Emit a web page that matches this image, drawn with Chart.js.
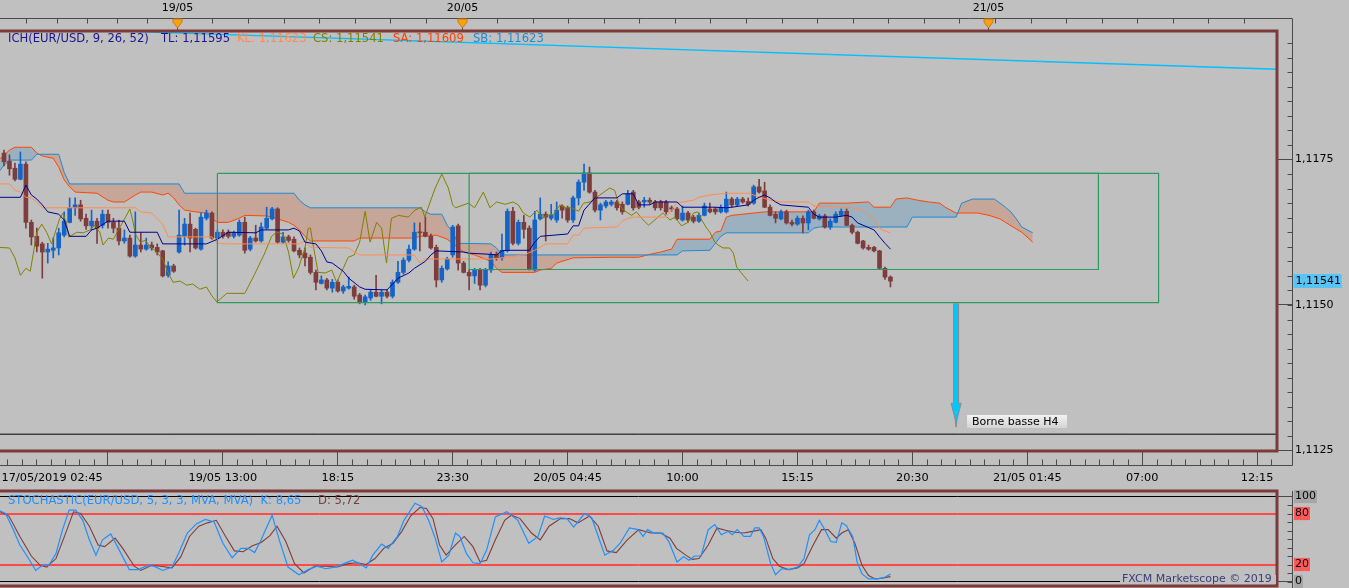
<!DOCTYPE html>
<html><head><meta charset="utf-8">
<script src="https://cdn.jsdelivr.net/npm/chart.js@4.4.1/dist/chart.umd.min.js"></script>
<style>
html,body{margin:0;padding:0;background:#c0c0c0;overflow:hidden;}
#wrap{position:relative;width:1349px;height:588px;}
canvas{position:absolute;left:0;top:0;}
</style></head><body>
<div id="wrap"><canvas id="main" width="1349" height="588"></canvas><canvas id="stoch" width="1349" height="588"></canvas></div>
<script>
// ---------- DATA (EUR/USD M15) ----------
const candleOpen = [1.11761,1.11747,1.11735,1.11716,1.11742,1.11642,1.11618,1.11605,1.11591,1.11594,1.11598,1.11620,1.11642,1.11667,1.11672,1.11649,1.11636,1.11644,1.11637,1.11656,1.11642,1.11632,1.11610,1.11615,1.11584,1.11603,1.11596,1.11603,1.11599,1.11593,1.11551,1.11567,1.11591,1.11618,1.11639,1.11630,1.11596,1.11649,1.11658,1.11615,1.11625,1.11625,1.11618,1.11620,1.11642,1.11596,1.11615,1.11610,1.11632,1.11648,1.11665,1.11608,1.11617,1.11613,1.11594,1.11589,1.11582,1.11556,1.11537,1.11543,1.11529,1.11539,1.11524,1.11529,1.11531,1.11517,1.11505,1.11512,1.11522,1.11515,1.11522,1.11515,1.11539,1.11556,1.11577,1.11596,1.11625,1.11625,1.11618,1.11599,1.11543,1.11562,1.11586,1.11636,1.11572,1.11556,1.11550,1.11560,1.11534,1.11560,1.11587,1.11581,1.11594,1.11661,1.11606,1.11642,1.11632,1.11560,1.11648,1.11656,1.11649,1.11646,1.11670,1.11667,1.11646,1.11684,1.11711,1.11727,1.11694,1.11663,1.11670,1.11673,1.11677,1.11673,1.11673,1.11694,1.11677,1.11677,1.11680,1.11677,1.11677,1.11677,1.11667,1.11665,1.11646,1.11658,1.11651,1.11644,1.11654,1.11665,1.11665,1.11660,1.11660,1.11682,1.11672,1.11682,1.11678,1.11675,1.11703,1.11696,1.11668,1.11656,1.11648,1.11660,1.11642,1.11639,1.11649,1.11641,1.11660,1.11648,1.11653,1.11634,1.11642,1.11654,1.11661,1.11637,1.11625,1.11610,1.11599,1.11599,1.11593,1.11563,1.11548];
const candleHigh = [1.11766,1.11758,1.11744,1.11763,1.11746,1.11646,1.11632,1.11608,1.11606,1.11615,1.11632,1.11660,1.11684,1.11684,1.11680,1.11656,1.11663,1.11649,1.11663,1.11663,1.11649,1.11646,1.11629,1.11620,1.11660,1.11624,1.11615,1.11608,1.11605,1.11594,1.11574,1.11570,1.11663,1.11649,1.11658,1.11632,1.11658,1.11663,1.11660,1.11629,1.11629,1.11629,1.11627,1.11646,1.11651,1.11618,1.11637,1.11641,1.11668,1.11668,1.11667,1.11625,1.11620,1.11617,1.11598,1.11598,1.11586,1.11560,1.11550,1.11546,1.11544,1.11543,1.11534,1.11548,1.11534,1.11520,1.11517,1.11526,1.11551,1.11526,1.11526,1.11543,1.11575,1.11581,1.11603,1.11641,1.11641,1.11651,1.11622,1.11603,1.11567,1.11582,1.11637,1.11639,1.11575,1.11560,1.11563,1.11563,1.11563,1.11591,1.11591,1.11622,1.11665,1.11668,1.11646,1.11654,1.11636,1.11661,1.11684,1.11660,1.11673,1.11677,1.11672,1.11670,1.11687,1.11715,1.11742,1.11737,1.11697,1.11675,1.11680,1.11680,1.11680,1.11677,1.11697,1.11697,1.11680,1.11685,1.11684,1.11680,1.11680,1.11680,1.11670,1.11668,1.11670,1.11661,1.11654,1.11658,1.11675,1.11675,1.11668,1.11672,1.11694,1.11685,1.11685,1.11685,1.11684,1.11706,1.11716,1.11711,1.11672,1.11660,1.11663,1.11663,1.11646,1.11653,1.11653,1.11663,1.11663,1.11656,1.11656,1.11648,1.11660,1.11665,1.11665,1.11639,1.11627,1.11611,1.11603,1.11601,1.11594,1.11565,1.11550];
const candleLow = [1.11739,1.11723,1.11713,1.11715,1.11632,1.11603,1.11591,1.11546,1.11572,1.11581,1.11586,1.11617,1.11641,1.11654,1.11644,1.11630,1.11629,1.11606,1.11632,1.11632,1.11624,1.11603,1.11606,1.11582,1.11582,1.11591,1.11594,1.11594,1.11586,1.11548,1.11548,1.11556,1.11589,1.11603,1.11591,1.11596,1.11594,1.11646,1.11613,1.11611,1.11615,1.11615,1.11615,1.11618,1.11589,1.11593,1.11608,1.11608,1.11630,1.11646,1.11606,1.11606,1.11608,1.11591,1.11581,1.11567,1.11553,1.11526,1.11536,1.11526,1.11522,1.11522,1.11520,1.11527,1.11510,1.11502,1.11500,1.11508,1.11514,1.11502,1.11512,1.11512,1.11537,1.11553,1.11574,1.11594,1.11593,1.11617,1.11596,1.11531,1.11539,1.11560,1.11582,1.11560,1.11555,1.11526,1.11537,1.11526,1.11531,1.11556,1.11577,1.11577,1.11591,1.11603,1.11603,1.11615,1.11560,1.11558,1.11646,1.11610,1.11646,1.11642,1.11649,1.11642,1.11642,1.11672,1.11697,1.11692,1.11660,1.11646,1.11667,1.11670,1.11663,1.11656,1.11672,1.11663,1.11665,1.11668,1.11673,1.11663,1.11663,1.11656,1.11661,1.11646,1.11644,1.11642,1.11641,1.11642,1.11653,1.11658,1.11656,1.11658,1.11658,1.11668,1.11670,1.11675,1.11670,1.11673,1.11692,1.11667,1.11653,1.11641,1.11646,1.11639,1.11636,1.11637,1.11624,1.11629,1.11648,1.11646,1.11632,1.11630,1.11641,1.11653,1.11636,1.11622,1.11605,1.11596,1.11594,1.11591,1.11562,1.11544,1.11531];
const candleClose = [1.11746,1.11734,1.11716,1.11742,1.11642,1.11617,1.11601,1.11591,1.11596,1.11598,1.11624,1.11644,1.11667,1.11672,1.11648,1.11636,1.11644,1.11632,1.11656,1.11642,1.11632,1.11610,1.11615,1.11584,1.11603,1.11596,1.11603,1.11598,1.11591,1.11550,1.11567,1.11558,1.11620,1.11639,1.11615,1.11598,1.11651,1.11658,1.11615,1.11625,1.11618,1.11618,1.11624,1.11642,1.11594,1.11615,1.11610,1.11634,1.11649,1.11665,1.11608,1.11617,1.11611,1.11593,1.11586,1.11581,1.11556,1.11539,1.11543,1.11529,1.11539,1.11524,1.11531,1.11532,1.11515,1.11505,1.11514,1.11522,1.11515,1.11522,1.11515,1.11539,1.11556,1.11577,1.11596,1.11625,1.11624,1.11618,1.11598,1.11543,1.11563,1.11579,1.11634,1.11572,1.11556,1.11550,1.11560,1.11534,1.11560,1.11587,1.11581,1.11594,1.11661,1.11606,1.11642,1.11630,1.11562,1.11646,1.11656,1.11651,1.11654,1.11663,1.11663,1.11646,1.11684,1.11711,1.11727,1.11694,1.11663,1.11672,1.11677,1.11677,1.11667,1.11660,1.11691,1.11667,1.11668,1.11680,1.11677,1.11667,1.11667,1.11660,1.11665,1.11648,1.11658,1.11646,1.11644,1.11654,1.11670,1.11660,1.11660,1.11668,1.11682,1.11672,1.11682,1.11677,1.11673,1.11703,1.11694,1.11668,1.11654,1.11649,1.11660,1.11641,1.11639,1.11649,1.11641,1.11660,1.11649,1.11653,1.11634,1.11644,1.11656,1.11661,1.11637,1.11625,1.11606,1.11598,1.11596,1.11593,1.11563,1.11548,1.11541];

// Ichimoku (9, 26, 52) lines: [bar index, price]
const tenkan = [[-1,1.11685],[3,1.11685],[4,1.11706],[5,1.11689],[6,1.11682],[7,1.11672],[8,1.11660],[10,1.11656],[11,1.11646],[12,1.11618],[15,1.11618],[16,1.11629],[17,1.11632],[19,1.11644],[22,1.11644],[23,1.11625],[28,1.11625],[29,1.11605],[37,1.11605],[39,1.11613],[41,1.11625],[46,1.11624],[47,1.11629],[52,1.11629],[53,1.11632],[54,1.11627],[55,1.11608],[57,1.11605],[58,1.11593],[59,1.11574],[60,1.11572],[61,1.11565],[62,1.11558],[63,1.11546],[65,1.11531],[66,1.11527],[70,1.11526],[71,1.11536],[72,1.11546],[74,1.11555],[75,1.11563],[77,1.11575],[78,1.11586],[79,1.11593],[84,1.11591],[85,1.11589],[89,1.11587],[90,1.11586],[91,1.11593],[92,1.11594],[96,1.11594],[97,1.11608],[98,1.11618],[103,1.11622],[104,1.11636],[105,1.11636],[106,1.11663],[108,1.11684],[112,1.11684],[113,1.11691],[115,1.11691],[116,1.11672],[118,1.11672],[119,1.11677],[123,1.11677],[124,1.11668],[130,1.11668],[132,1.11667],[133,1.11668],[136,1.11672],[137,1.11680],[138,1.11685],[139,1.11689],[140,1.11684],[141,1.11677],[142,1.11672],[147,1.11668],[148,1.11656],[149,1.11651],[152,1.11651],[154,1.11654],[155,1.11651],[156,1.11641],[157,1.11637],[159,1.11629],[160,1.11617],[161,1.11606],[162,1.11596]];
const kijun = [[-1,1.11708],[1,1.11708],[2,1.11697],[3,1.11694],[4,1.11685],[5,1.11684],[6,1.11677],[7,1.11667],[24,1.11667],[25,1.11660],[27,1.11658],[29,1.11639],[30,1.11617],[38,1.11617],[39,1.11606],[41,1.11605],[54,1.11605],[55,1.11610],[56,1.11599],[63,1.11598],[64,1.11591],[65,1.11586],[75,1.11586],[76,1.11572],[77,1.11579],[89,1.11579],[91,1.11581],[95,1.11586],[97,1.11594],[99,1.11605],[103,1.11605],[104,1.11620],[105,1.11620],[106,1.11632],[112,1.11634],[113,1.11644],[114,1.11649],[115,1.11651],[121,1.11651],[122,1.11663],[123,1.11675],[124,1.11677],[126,1.11680],[127,1.11685],[129,1.11689],[132,1.11692],[136,1.11692],[137,1.11689],[140,1.11680],[142,1.11677],[147,1.11677],[148,1.11670],[153,1.11668],[155,1.11667],[157,1.11663],[158,1.11654],[159,1.11648],[160,1.11632],[161,1.11627],[162,1.11624]];
const senkouA = [[-1,1.11749],[1,1.11766],[2,1.11771],[5,1.11771],[6,1.11761],[7,1.11756],[9,1.11752],[10,1.11737],[11,1.11715],[12,1.11703],[13,1.11694],[17,1.11692],[19,1.11680],[20,1.11677],[22,1.11677],[24,1.11689],[25,1.11694],[27,1.11694],[29,1.11689],[30,1.11692],[31,1.11684],[32,1.11672],[33,1.11663],[35,1.11660],[37,1.11658],[38,1.11648],[39,1.11642],[41,1.11642],[43,1.11649],[44,1.11654],[48,1.11653],[50,1.11648],[52,1.11642],[53,1.11637],[54,1.11629],[55,1.11618],[56,1.11610],[64,1.11610],[65,1.11615],[75,1.11615],[76,1.11618],[79,1.11620],[81,1.11613],[82,1.11606],[83,1.11598],[84,1.11591],[86,1.11586],[89,1.11575],[90,1.11563],[91,1.11556],[97,1.11556],[98,1.11560],[100,1.11563],[101,1.11572],[102,1.11575],[104,1.11581],[111,1.11582],[116,1.11582],[118,1.11587],[120,1.11591],[122,1.11596],[123,1.11613],[129,1.11613],[130,1.11625],[131,1.11627],[132,1.11651],[133,1.11654],[139,1.11660],[148,1.11660],[149,1.11675],[154,1.11675],[158,1.11677],[159,1.11668],[162,1.11668],[163,1.11682],[165,1.11684],[167,1.11680],[169,1.11677],[171,1.11675],[172,1.11668],[174,1.11658],[178,1.11658],[180,1.11654],[182,1.11648],[183,1.11642],[186,1.11625],[188,1.11608]];
const senkouB = [[-1,1.11728],[0,1.11740],[1,1.11749],[5,1.11749],[6,1.11759],[10,1.11759],[11,1.11728],[12,1.11708],[32,1.11708],[33,1.11692],[53,1.11692],[54,1.11680],[55,1.11672],[56,1.11667],[76,1.11667],[77,1.11660],[78,1.11656],[80,1.11656],[81,1.11637],[82,1.11625],[83,1.11606],[89,1.11605],[90,1.11598],[91,1.11586],[123,1.11586],[124,1.11593],[129,1.11594],[130,1.11606],[131,1.11618],[132,1.11624],[147,1.11624],[148,1.11632],[149,1.11634],[165,1.11634],[166,1.11651],[174,1.11651],[175,1.11675],[177,1.11682],[181,1.11682],[183,1.11668],[184,1.11660],[185,1.11648],[186,1.11634],[188,1.11624]];
const chikou = [[-1,1.11599],[1,1.11598],[2,1.11581],[3,1.11551],[4,1.11563],[4.8,1.11558],[5.4,1.11591],[6,1.11625],[6.9,1.11639],[7.8,1.11625],[8.7,1.11605],[9.6,1.11632],[10.2,1.11649],[10.8,1.11658],[11.5,1.11637],[11.8,1.11617],[12.4,1.11620],[13.3,1.11625],[14.5,1.11624],[15.7,1.11629],[16.6,1.11637],[17.5,1.11625],[18.1,1.11603],[19.1,1.11615],[20,1.11613],[20.9,1.11629],[22.1,1.11649],[23,1.11665],[23.6,1.11642],[24,1.11622],[24.9,1.11608],[25.8,1.11611],[26.7,1.11601],[27.9,1.11591],[29.1,1.11577],[30,1.11555],[30.9,1.11539],[32.2,1.11541],[33.4,1.11534],[34.5,1.11536],[35.8,1.11527],[37,1.11531],[37.9,1.11517],[38.9,1.11505],[40.7,1.11520],[42,1.11520],[44,1.11520],[45.7,1.11551],[47.5,1.11586],[48.9,1.11618],[49.8,1.11625],[51,1.11622],[52,1.11591],[52.9,1.11546],[53.8,1.11563],[55,1.11598],[55.6,1.11632],[56,1.11632],[56.5,1.11603],[57.4,1.11556],[58.7,1.11555],[59.9,1.11560],[60.8,1.11539],[62,1.11563],[62.9,1.11582],[64,1.11586],[65,1.11608],[66,1.11661],[66.9,1.11608],[68.1,1.11642],[69,1.11632],[69.9,1.11572],[70.8,1.11649],[72.1,1.11654],[73.9,1.11651],[75.1,1.11663],[76.3,1.11668],[76.9,1.11651],[78.8,1.11701],[80,1.11725],[81.2,1.11701],[82,1.11672],[82.5,1.11667],[84.9,1.11675],[86,1.11667],[87.6,1.11694],[88.8,1.11667],[90,1.11677],[91.6,1.11673],[93,1.11677],[94,1.11672],[94.9,1.11658],[96.1,1.11651],[97.4,1.11663],[98.4,1.11649],[99.2,1.11654],[100.5,1.11656],[101.6,1.11672],[102.5,1.11667],[103.7,1.11667],[105,1.11661],[105.9,1.11675],[107.1,1.11677],[110.7,1.11701],[111.6,1.11697],[112.3,1.11675],[113.2,1.11663],[114.7,1.11654],[115.6,1.11660],[116.5,1.11649],[117.8,1.11637],[119.3,1.11649],[120.4,1.11658],[121.7,1.11646],[122.6,1.11651],[123.8,1.11636],[125,1.11642],[126,1.11658],[126.8,1.11660],[127.5,1.11646],[128.4,1.11632],[129,1.11625],[129.9,1.11608],[130.5,1.11603],[131.4,1.11598],[132.6,1.11598],[133.3,1.11589],[133.9,1.11565],[135.1,1.11551],[136,1.11541]];

// Drawings
const rectX0 = [39, 85], rectX1 = [211, 200], rectTop = [1.11726, 1.11726], rectBottom = [1.11504, 1.11561];
const trendLine = [[20, 1.11971], [233, 1.11905]];
const levelLine = [[-1, 1.11278], [234, 1.11278]];
const arrowIdx = 174, arrowFrom = 1.11502, arrowTo = 1.11290, arrowText = 'Borne basse H4';

// Stochastic (5,3,3): [bar index, value]
const stochK = [[-1,84],[0.3,80],[1.7,61],[2.9,43],[4.2,30],[5.8,13],[7,19],[8.2,19],[9.5,33],[10.7,61],[11.9,84],[13.1,84],[14.4,72],[15.6,49],[16.8,31],[18,49],[19.5,56],[20.9,39],[22.9,14],[24.6,14],[26.2,19],[27.4,18],[29,13],[30.7,17],[31.9,33],[33.5,57],[35.2,68],[36.8,73],[38.4,70],[40,45],[41.7,28],[43.3,39],[44.6,39],[45.8,34],[47,49],[47.8,61],[49,78],[50.3,49],[51.9,17],[53.9,8],[55.6,14],[57.2,18],[58.8,15],[60.5,17],[62.1,21],[63.7,25],[65,21],[66.2,16],[67.4,31],[69,44],[70.2,39],[71.9,53],[73.1,72],[75.1,92],[76.4,88],[77.6,72],[78.8,51],[80,23],[81.3,31],[82.5,57],[83.3,53],[84.5,33],[85.7,22],[87,21],[88.2,37],[89.8,76],[91.9,82],[93.9,72],[95.9,45],[97.6,53],[98.8,77],[100.4,73],[101.6,75],[102.9,74],[104.1,64],[106.1,80],[107.4,75],[108.6,53],[109.8,31],[111.4,37],[112.6,45],[114.3,63],[115.9,61],[116.8,53],[117.6,61],[118.8,57],[120.4,57],[121.5,47],[123,23],[124.2,29],[125.2,25],[126.2,30],[127.4,30],[128.7,61],[129.9,67],[131.1,55],[132.3,59],[133.1,55],[134,61],[135.2,53],[136.4,53],[137.2,63],[138,63],[138.8,53],[140.1,21],[141,8],[142.1,15],[143.7,14],[145,17],[146.2,27],[147.2,55],[148.2,61],[149,72],[150,61],[151.1,47],[152.1,46],[153.1,69],[153.9,66],[155.1,53],[155.9,23],[156.8,9],[158,3],[159.6,3],[160.8,4.5],[162,8.65]];
const stochD = [[-1,83],[0.9,77],[2.9,53],[5,30],[6.6,19],[7.8,17],[9.5,27],[11.1,54],[12.7,82],[14,80],[15.6,65],[17.2,43],[18.4,41],[20.3,51],[21.7,39],[23.8,18],[25,13],[27,19],[28.6,18],[30.7,16],[32.3,29],[33.9,53],[35.6,65],[37.2,69],[38.8,72],[40.5,53],[42.1,36],[43.7,35],[45.4,42],[47,46],[48.6,54],[49.9,65],[51.5,47],[53.1,21],[54.8,10],[56.8,18],[58.8,18],[60.9,17],[62.9,21],[64.5,22],[66.2,20],[67.8,27],[69.4,39],[71.1,45],[72.7,59],[74.3,77],[76,87],[77.2,86],[78.4,74],[79.6,43],[80.8,31],[82.5,43],[84.1,53],[85.7,41],[87,23],[88.2,25],[89.8,49],[91.5,72],[92.7,78],[94.3,74],[96.4,57],[98,49],[99.6,65],[101.7,74],[103.3,74],[104.9,69],[107,77],[108.6,65],[110.2,36],[111.9,34],[113.9,49],[116,61],[118.2,57],[120,57],[121.7,51],[122.9,39],[124.6,31],[125.8,26],[127,27],[128.7,43],[130.3,63],[132,60],[133.6,58],[135.2,57],[136.8,59],[138.3,61],[139.2,51],[140.5,27],[141.7,18],[143.3,14],[145,16],[146.2,21],[147.8,42],[149.4,61],[150.6,61],[152.1,51],[153.1,57],[154.3,61],[155.5,45],[156.8,19],[158,7],[159.2,3],[160.4,4],[162,5.72]];

// Axes / labels
const xTickPos = [8.8, 19, 40, 61, 82, 103, 124, 145, 166, 187, 208, 229];
const xTickText = ['17/05/2019 02:45', '', '19/05 13:00', '18:15', '23:30', '20/05 04:45', '10:00', '15:15', '20:30', '21/05 01:45', '07:00', '12:15'];
const dayMarkIdx = [31.6, 83.7, 179.8];
const dayMarkText = ['19/05', '20/05', '21/05'];
const priceTicks = [1.1125, 1.1150, 1.1175];
const stochTicks = [0, 20, 80, 100];
const stochBands = [20, 80];
const ichLegend = [['ICH(EUR/USD, 9, 26, 52)', '#1c1490', 8], ['TL: 1,11595', '#1c1490', 161], ['KL: 1,11623', '#ff8a50', 237], ['CS: 1,11541', '#808000', 313], ['SA: 1,11609', '#ff4000', 393], ['SB: 1,11623', '#1e8cd2', 473]];
const stochLegend = [['STOCHASTIC(EUR/USD, 5, 3, 3, MVA, MVA)  K: 8,65', '#1e90ff', 8], ['D: 5,72', '#7d3d3d', 318]];

// ---------- RENDERING ----------
const X_MIN = -0.731, X_MAX = 232.64;
const Y_MIN = 1.112491, Y_MAX = 1.119708;
const UP = '#1464c8', DOWN = '#7d3d3d', FRAME = '#7b3b3b', AXIS = '#4a4a4a';
const FONT = '11px "DejaVu Sans"';
const LEGEND_FONT = '11.6px "DejaVu Sans"';
Chart.defaults.font.family = '"DejaVu Sans", sans-serif';
Chart.defaults.font.size = 11;
Chart.defaults.color = '#000';

const idx = candleOpen.map((_, i) => i);
const candleColor = idx.map(i => candleClose[i] >= candleOpen[i] ? UP : DOWN);
const pts = arr => arr.map(p => ({x: p[0], y: p[1]}));
const rectPts = k => [{x: rectX0[k], y: rectTop[k]}, {x: rectX1[k], y: rectTop[k]}, {x: rectX1[k], y: rectBottom[k]}, {x: rectX0[k], y: rectBottom[k]}, {x: rectX0[k], y: rectTop[k]}];
const lineDs = (data, color, order, width) => ({type: 'line', data, borderColor: color, borderWidth: width || 1, pointRadius: 0, fill: false, tension: 0, order});

function seg(ctx, x1, y1, x2, y2) { ctx.moveTo(x1, y1); ctx.lineTo(x2, y2); }

const mainDecor = {
  id: 'mainDecor',
  afterDraw(chart) {
    const {ctx, chartArea: a, scales: {x, y}} = chart;
    const axisX = Math.round(a.right) + 15.5;
    const rTop = 18.5, rBot = Math.round(a.bottom) + 14.5;
    ctx.save();
    ctx.strokeStyle = FRAME; ctx.lineWidth = 3;
    ctx.beginPath();
    ctx.moveTo(-4, a.top); ctx.lineTo(a.right, a.top); ctx.lineTo(a.right, a.bottom); ctx.lineTo(-4, a.bottom);
    ctx.stroke();
    ctx.strokeStyle = AXIS; ctx.lineWidth = 1;
    ctx.beginPath();
    seg(ctx, 0, rTop, axisX, rTop);
    seg(ctx, axisX, rTop, axisX, rBot);
    seg(ctx, 0, rBot, axisX, rBot);
    const topTick = v => { const p = Math.round(x.getPixelForValue(v)) + 0.5; seg(ctx, p, rTop, p, rTop + 5); };
    for (let k = 0; dayMarkIdx[0] + k * 6.5 <= x.max; k++) topTick(dayMarkIdx[0] + k * 6.5);
    for (let k = 1; dayMarkIdx[0] - k * 5.5 >= x.min; k++) topTick(dayMarkIdx[0] - k * 5.5);
    for (let k = -8; k < 90; k++) {
      if (k % 8 === 0) continue;
      const v = xTickPos[1] + k * 21 / 8;
      if (v < x.min || v > x.max) continue;
      const p = Math.round(x.getPixelForValue(v)) + 0.5;
      seg(ctx, p, rBot - 6, p, rBot);
    }
    for (let k = 0; priceTicks[0] + k * 0.00025 <= y.max; k++) {
      const py = Math.round(y.getPixelForValue(priceTicks[0] + k * 0.00025)) + 0.5;
      seg(ctx, axisX - 5, py, axisX, py);
    }
    ctx.stroke();
    ctx.font = FONT; ctx.textBaseline = 'middle';
    dayMarkIdx.forEach((v, k) => {
      const p = Math.round(x.getPixelForValue(v)) + 0.5;
      ctx.strokeStyle = '#505050'; ctx.beginPath(); seg(ctx, p, rTop, p, a.top - 1); ctx.stroke();
      ctx.fillStyle = '#f7a11a'; ctx.strokeStyle = '#d07a00';
      ctx.beginPath(); ctx.moveTo(p - 4.5, 19); ctx.lineTo(p + 4.5, 19); ctx.lineTo(p + 4.5, 22); ctx.lineTo(p, 28); ctx.lineTo(p - 4.5, 22); ctx.closePath(); ctx.fill(); ctx.stroke();
      ctx.fillStyle = '#000'; ctx.textAlign = 'center'; ctx.fillText(dayMarkText[k], p, 8);
    });
    ctx.textAlign = 'left';
    ctx.font = LEGEND_FONT;
    ichLegend.forEach(([t, c, px]) => { ctx.fillStyle = c; ctx.fillText(t, px, 39); });
    ctx.font = FONT;
    const lastClose = candleClose[candleClose.length - 1];
    const ly = y.getPixelForValue(lastClose);
    ctx.fillStyle = '#58c4f6'; ctx.fillRect(axisX + 1, Math.round(ly) - 7, 48, 14);
    ctx.fillStyle = '#000'; ctx.fillText(lastClose.toFixed(5).replace('.', ','), axisX + 3, ly);
    const ax = x.getPixelForValue(arrowIdx), ay0 = y.getPixelForValue(arrowFrom), ay1 = y.getPixelForValue(arrowTo);
    ctx.fillStyle = '#00c8ff'; ctx.strokeStyle = '#8a8a8a'; ctx.lineWidth = 1;
    ctx.beginPath();
    ctx.moveTo(ax - 2.5, ay0); ctx.lineTo(ax + 2.5, ay0); ctx.lineTo(ax + 2.5, ay1 - 24); ctx.lineTo(ax + 5, ay1 - 24);
    ctx.lineTo(ax + 1, ay1 - 8); ctx.lineTo(ax, ay1); ctx.lineTo(ax - 1, ay1 - 8); ctx.lineTo(ax - 5, ay1 - 24); ctx.lineTo(ax - 2.5, ay1 - 24); ctx.closePath();
    ctx.fill(); ctx.stroke();
    const bx = Math.round(ax) + 11, by = Math.round(ay1) - 12;
    const g = ctx.createLinearGradient(0, by, 0, by + 13);
    g.addColorStop(0, '#f2f2f2'); g.addColorStop(1, '#d4d4d4');
    ctx.fillStyle = g; ctx.fillRect(bx, by, 100, 13);
    ctx.fillStyle = '#000'; ctx.fillText(arrowText, bx + 5, by + 7);
    ctx.restore();
  }
};

const stochDecor = {
  id: 'stochDecor',
  beforeDatasetsDraw(chart) {
    const {ctx, chartArea: a, scales: {y}} = chart;
    ctx.save();
    ctx.strokeStyle = '#ff4a4a'; ctx.lineWidth = 1;
    ctx.beginPath();
    stochBands.forEach(v => { const py = Math.round(y.getPixelForValue(v)) + 0.5; seg(ctx, a.left, py, a.right, py); });
    ctx.stroke();
    ctx.restore();
  },
  afterDraw(chart) {
    const {ctx, chartArea: a, scales: {y}} = chart;
    const axisX = Math.round(a.right) + 15.5;
    ctx.save();
    ctx.strokeStyle = FRAME; ctx.lineWidth = 3;
    ctx.beginPath();
    ctx.moveTo(-4, a.top); ctx.lineTo(a.right, a.top); ctx.lineTo(a.right, a.bottom); ctx.lineTo(-4, a.bottom);
    ctx.stroke();
    ctx.strokeStyle = AXIS; ctx.lineWidth = 1;
    ctx.beginPath();
    seg(ctx, axisX, a.top, axisX, 588);
    for (let v = 0; v <= 100; v += 10) {
      const py = Math.round(y.getPixelForValue(v)) + 0.5;
      seg(ctx, axisX - 5, py, axisX, py);
    }
    ctx.stroke();
    ctx.font = LEGEND_FONT; ctx.textBaseline = 'middle'; ctx.textAlign = 'left';
    stochLegend.forEach(([t, c, px]) => { ctx.fillStyle = c; ctx.fillText(t, px, 501); });
    ctx.font = FONT;
    ctx.fillStyle = '#c0c0c0'; ctx.fillRect(1120, 575, 156, 9);
    ctx.fillStyle = '#3c3c78'; ctx.fillText('FXCM Marketscope \u00a9 2019', 1122, 579);
    ctx.restore();
  }
};

new Chart(document.getElementById('main'), {
  type: 'bar',
  data: {
    datasets: [
      lineDs(pts(senkouB), '#1e88d0', 21),
      Object.assign(lineDs(pts(senkouA), '#ff4500', 22), {fill: {target: 0, above: '#9cb1bf', below: '#c6a698'}}),
      {type: 'bar', data: idx.map(i => ({x: i, y: [candleLow[i], candleHigh[i]]})), backgroundColor: candleColor, barThickness: 1, grouped: false, order: 12},
      {type: 'bar', data: idx.map(i => ({x: i, y: [candleOpen[i], candleClose[i]]})), backgroundColor: candleColor, barThickness: 4, grouped: false, minBarLength: 1, order: 11},
      lineDs(pts(kijun), '#ff8c50', 4),
      lineDs(pts(chikou), '#808000', 5),
      lineDs(pts(tenkan), '#00008c', 3),
      lineDs(rectPts(0), '#2e9a62', 2, 1.2),
      lineDs(rectPts(1), '#2e9a62', 2, 1.2),
      lineDs(pts(trendLine), '#00bfff', 1, 1.3),
      lineDs(pts(levelLine), '#000000', 1, 1)
    ]
  },
  options: {
    responsive: false, animation: false, events: [],
    layout: {padding: {top: 31, right: 0, bottom: 97, left: 0}},
    plugins: {legend: {display: false}, tooltip: {enabled: false}},
    scales: {
      x: {
        type: 'linear', position: 'bottom', min: X_MIN, max: X_MAX, offset: false,
        afterBuildTicks: s => { s.ticks = xTickPos.map(v => ({value: v})); },
        afterFit: s => { s.height = 40; s.paddingLeft = 0; s.paddingRight = 0; },
        grid: {drawOnChartArea: false, drawTicks: true, tickLength: 14, offset: false, tickColor: c => c.index === 0 ? 'rgba(0,0,0,0)' : '#4a4a4a'},
        border: {display: false},
        ticks: {autoSkip: false, maxRotation: 0, minRotation: 0, padding: 6, color: '#000', font: {size: 11.3}, callback: (v, i) => xTickText[i]}
      },
      y: {
        type: 'linear', position: 'right', min: Y_MIN, max: Y_MAX,
        afterBuildTicks: s => { s.ticks = priceTicks.map(v => ({value: v})); },
        afterFit: s => { s.width = 72; s.paddingTop = 0; s.paddingBottom = 0; },
        grid: {drawOnChartArea: false, drawTicks: true, tickLength: 15, tickColor: '#4a4a4a'},
        border: {display: false},
        ticks: {padding: 3, color: '#000', callback: v => v.toFixed(4).replace('.', ',')}
      }
    }
  },
  plugins: [mainDecor]
});

const isBand = v => stochBands.includes(v);
new Chart(document.getElementById('stoch'), {
  type: 'line',
  data: {
    datasets: [
      lineDs(pts(stochK), '#1e90ff', 1, 1.2),
      lineDs(pts(stochD), '#7d3d3d', 2, 1.1)
    ]
  },
  options: {
    responsive: false, animation: false, events: [],
    layout: {padding: {top: 491, right: 0, bottom: 2, left: 0}},
    plugins: {legend: {display: false}, tooltip: {enabled: false}},
    scales: {
      x: {type: 'linear', display: false, min: X_MIN, max: X_MAX},
      y: {
        type: 'linear', position: 'right', min: -5.29, max: 106.47,
        afterBuildTicks: s => { s.ticks = stochTicks.map(v => ({value: v})); },
        afterFit: s => { s.width = 72; s.paddingTop = 0; s.paddingBottom = 0; },
        grid: {drawOnChartArea: true, lineWidth: 1, tickLength: 15,
               color: c => isBand(c.tick.value) ? '#ff4a4a' : '#000000',
               tickColor: c => isBand(c.tick.value) ? 'rgba(0,0,0,0)' : '#4a4a4a'},
        border: {display: false},
        ticks: {padding: 3, color: '#000', showLabelBackdrop: true,
                backdropColor: c => isBand(c.tick.value) ? '#ff5a5a' : '#a6a6a6',
                backdropPadding: {top: 0, bottom: 0, left: 1, right: 1},
                callback: v => String(v)}
      }
    }
  },
  plugins: [stochDecor]
});
</script>
</body></html>
